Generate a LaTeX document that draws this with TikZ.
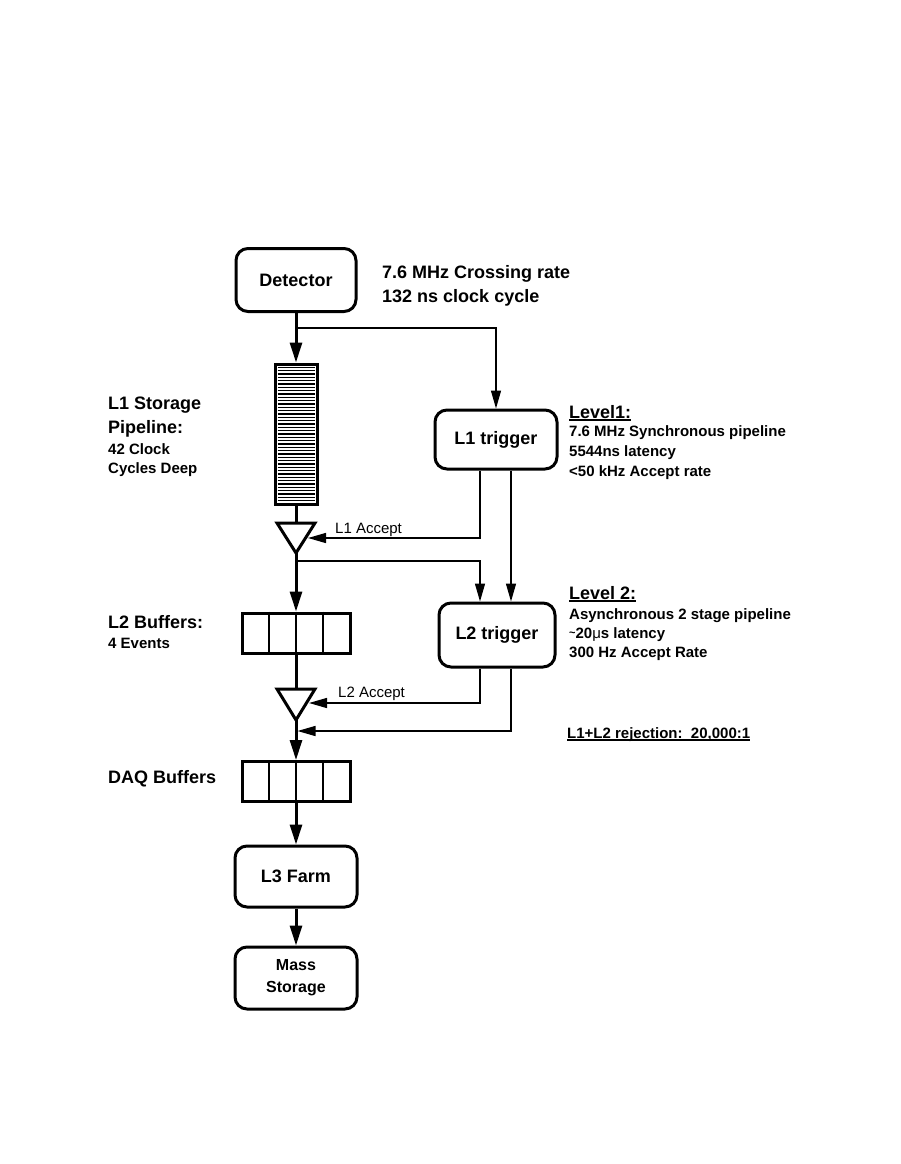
\documentclass[tikz,border=0pt]{standalone}
\usepackage{fontspec}
\setmainfont{Liberation Sans}
\usetikzlibrary{arrows.meta}
\newcommand{\myul}[1]{\setbox0=\hbox{#1}\rlap{\rule[-2.6pt]{\wd0}{1.4pt}}\box0}
\begin{document}
\begin{tikzpicture}[x=1pt,y=-1pt,
  box/.style={draw, line width=3pt, rounded corners=12pt, inner sep=0pt,
    font=\fontsize{18}{22}\selectfont\bfseries, align=center},
  bufbox/.style={draw, line width=3pt, inner sep=0pt, minimum width=108, minimum height=40},
  flow/.style={line width=3pt, -{Triangle[length=20pt,width=12pt]}},
  flowline/.style={line width=3pt},
  sig/.style={line width=1.4pt, -{Triangle[length=18pt,width=10pt]}},
  sigline/.style={line width=1.4pt},
  big/.style={font=\fontsize{18}{22}\selectfont\bfseries, inner sep=0pt, anchor=base west},
  small/.style={font=\fontsize{15}{18}\selectfont\bfseries, inner sep=0pt, anchor=base west},
  lab/.style={font=\fontsize{15}{18}\selectfont, inner sep=0pt, anchor=base west},
  tri/.style={line width=3pt, line join=miter}
]
\useasboundingbox (0,0) rectangle (900,1164);

% boxes
\node[box, minimum width=120, minimum height=63] (det) at (296,280) {Detector};
\node[draw, line width=3pt, minimum width=42, minimum height=140, inner sep=0pt] (pipe) at (296,434) {};
\foreach \i in {1,...,41} \draw[line width=1.5pt] (277.5,{364+\i*3.333}) -- (314.5,{364+\i*3.333});
\node[box, minimum width=122, minimum height=59] (l1t) at (496,439.5) {L1 trigger};
\node[box, minimum width=116, minimum height=64] (l2t) at (497,635) {L2 trigger};
\node[bufbox] (buf2) at (296,633) {};
\node[bufbox] (daq) at (296,781.5) {};
\foreach \b in {buf2,daq} {
  \draw[sigline] ([xshift=-27]\b.north) -- ([xshift=-27]\b.south);
  \draw[sigline] (\b.north) -- (\b.south);
  \draw[sigline] ([xshift=27]\b.north) -- ([xshift=27]\b.south);
}
\node[box, minimum width=122, minimum height=61] (l3) at (296,876.5) {L3 Farm};
\node[box, minimum width=122, minimum height=62, font=\fontsize{16}{22}\selectfont\bfseries] (ms) at (296,978) {Mass\\Storage};

% triangles
\coordinate (t1top) at (296,523);
\coordinate (t1bot) at (296,553);
\coordinate (t1in) at (308,538);
\draw[tri] (277,523) -- (315,523) -- (t1bot) -- cycle;
\coordinate (t2top) at (296,689);
\coordinate (t2bot) at (296,720);
\coordinate (t2in) at (309,703);
\draw[tri] (277,689) -- (315,689) -- (t2bot) -- cycle;

% helper coordinates
\coordinate (xa) at (480,0);
\coordinate (xb) at (511,0);
\coordinate (b1) at (296,328);
\coordinate (b2) at (296,561);
\coordinate (j) at (297.5,731);

% connectors
\draw[flow] (det.south) -- (pipe.north);
\draw[sig] (b1) -| (l1t.north);
\draw[flowline] (pipe.south) -- (t1top);
\draw[sig] (l1t.south -| xa) |- (t1in);
\draw[sig] (l1t.south -| xb) -- (l2t.north -| xb);
\draw[flow] (t1bot) -- (buf2.north);
\draw[sig] (b2) -| (l2t.north -| xa);
\draw[flowline] (buf2.south) -- (t2top);
\draw[sig] (l2t.south -| xa) |- (t2in);
\draw[sig] (l2t.south -| xb) |- (j);
\draw[flow] (t2bot) -- (daq.north);
\draw[flow] (daq.south) -- (l3.north);
\draw[flow] (l3.south) -- (ms.north);

% texts
\node[big] (rate1) at (382,278) {7.6 MHz Crossing rate};
\node[big] (rate2) at (382,302) {132 ns clock cycle};
\node[big] (st1) at (108,409) {L1 Storage};
\node[big] (st2) at (108,433) {Pipeline:};
\node[small] (st3) at (108,454) {42 Clock};
\node[small] (st4) at (108,473) {Cycles Deep};
\node[big] (lv1) at (569,418) {\myul{Level1:}};
\node[small] (lv1a) at (569,436) {7.6 MHz Synchronous pipeline};
\node[small] (lv1b) at (569,456) {5544ns latency};
\node[small] (lv1c) at (569,476) {<50 kHz Accept rate};
\node[lab] (acc1) at (335,533) {L1 Accept};
\node[big] (b2a) at (108,628) {L2 Buffers:};
\node[small] (b2b) at (108,648) {4 Events};
\node[big] (lv2) at (569,599) {\myul{Level 2:}};
\node[small] (lv2a) at (569,619) {Asynchronous 2 stage pipeline};
\node[small] (lv2b) at (569,638) {\raisebox{2pt}{\fontsize{11}{11}\selectfont\textasciitilde}20{\mdseries μ}s latency};
\node[small] (lv2c) at (569,657) {300 Hz Accept Rate};
\node[lab] (acc2) at (338,697) {L2 Accept};
\node[small] (rej) at (567,738) {\myul{L1+L2 rejection:\ \ 20,000:1}};
\node[big] (daql) at (108,783) {DAQ Buffers};
\end{tikzpicture}
\end{document}
